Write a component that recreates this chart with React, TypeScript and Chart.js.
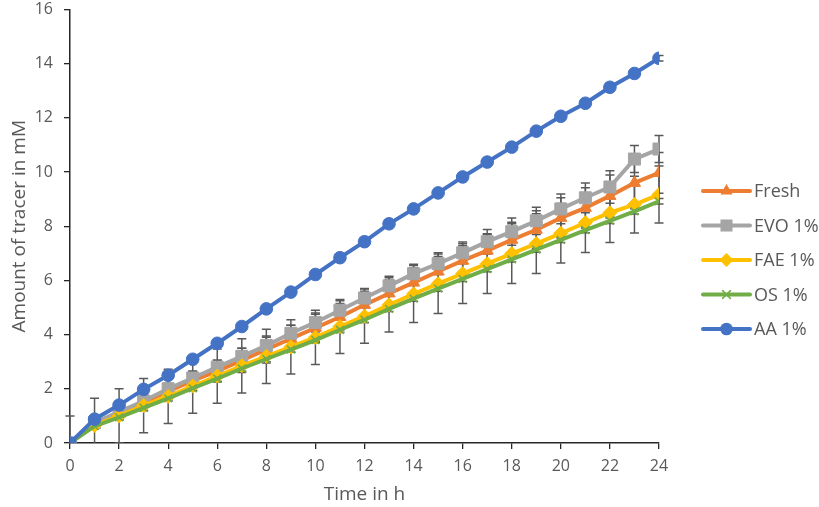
import React, { useEffect, useRef } from 'react';
import { Chart, registerables } from 'chart.js';

Chart.register(...registerables);

const hours = [0, 1, 2, 3, 4, 5, 6, 7, 8, 9, 10, 11, 12, 13, 14, 15, 16, 17, 18, 19, 20, 21, 22, 23, 24];

const freshValues = [0, 0.75, 1.1, 1.5, 1.9, 2.3, 2.65, 3.05, 3.45, 3.85, 4.25, 4.65, 5.1, 5.52, 5.92, 6.33, 6.73, 7.1, 7.5, 7.87, 8.31, 8.68, 9.12, 9.6, 9.97];
const freshErrors = [0, 0.2, 0.25, 0.3, 0.3, 0.35, 0.4, 0.45, 0.5, 0.5, 0.5, 0.5, 0.5, 0.5, 0.55, 0.55, 0.55, 0.6, 0.65, 0.7, 0.74, 0.74, 0.77, 0.75, 0.75];

const evoValues = [0, 0.75, 1.15, 1.55, 2.0, 2.4, 2.8, 3.2, 3.6, 4.05, 4.45, 4.9, 5.35, 5.8, 6.25, 6.62, 7.02, 7.43, 7.8, 8.2, 8.64, 9.05, 9.45, 10.48, 10.85];
const evoErrors = [0, 0.1, 0.15, 0.2, 0.2, 0.25, 0.25, 0.3, 0.3, 0.3, 0.35, 0.35, 0.35, 0.35, 0.35, 0.4, 0.4, 0.45, 0.5, 0.5, 0.55, 0.55, 0.6, 0.5, 0.5];

const faeValues = [0, 0.65, 1.0, 1.38, 1.72, 2.1, 2.47, 2.85, 3.2, 3.55, 3.9, 4.3, 4.68, 5.1, 5.5, 5.88, 6.25, 6.62, 6.99, 7.36, 7.74, 8.13, 8.5, 8.8, 9.17];
const faeErrors = [1.0, 1.0, 1.0, 1.0, 1.0, 1.0, 1.0, 1.0, 1.0, 1.0, 1.0, 1.0, 1.0, 1.0, 1.05, 1.1, 1.1, 1.1, 1.1, 1.1, 1.1, 1.1, 1.1, 1.05, 1.05];

const osValues = [0, 0.62, 0.95, 1.3, 1.65, 2.02, 2.38, 2.75, 3.1, 3.45, 3.8, 4.18, 4.55, 4.95, 5.33, 5.7, 6.06, 6.42, 6.78, 7.14, 7.5, 7.86, 8.2, 8.55, 8.92];
const osErrors = [0, 0.1, 0.1, 0.1, 0.1, 0.1, 0.1, 0.1, 0.1, 0.1, 0.1, 0.1, 0.1, 0.1, 0.1, 0.1, 0.1, 0.1, 0.1, 0.1, 0.1, 0.1, 0.1, 0.1, 0.1];

const aaValues = [0, 0.88, 1.4, 1.98, 2.5, 3.09, 3.68, 4.3, 4.95, 5.57, 6.22, 6.84, 7.43, 8.09, 8.64, 9.23, 9.82, 10.37, 10.92, 11.51, 12.06, 12.54, 13.13, 13.64, 14.2];
const aaErrors = [0, 0.05, 0.05, 0.05, 0.08, 0.08, 0.08, 0.08, 0.08, 0.08, 0.08, 0.08, 0.08, 0.08, 0.08, 0.08, 0.08, 0.1, 0.1, 0.1, 0.1, 0.12, 0.15, 0.1, 0.1];

const seriesNames = ['Fresh', 'EVO 1%', 'FAE 1%', 'OS 1%', 'AA 1%'];
const seriesColors = ['#ED7D31', '#A5A5A5', '#FFC000', '#70AD47', '#4472C4'];
const seriesMarkers = ['triangle', 'rect', 'rectRot', 'crossRot', 'circle'];
const seriesValues = [freshValues, evoValues, faeValues, osValues, aaValues];
const seriesErrors = [freshErrors, evoErrors, faeErrors, osErrors, aaErrors];
const markerRadii = [7, 8.5, 7, 5.5, 6.3];

const FONT = '"Open Sans", sans-serif';
const TEXT_COLOR = '#595959';

function drawMarker(ctx: CanvasRenderingContext2D, style: string, x: number, y: number, r: number, color: string) {
  ctx.save();
  ctx.fillStyle = color;
  ctx.strokeStyle = color;
  ctx.lineWidth = 1.5;
  ctx.beginPath();
  if (style === 'circle') {
    ctx.arc(x, y, r, 0, Math.PI * 2);
    ctx.fill();
  } else if (style === 'rect') {
    const s = r * Math.SQRT1_2;
    ctx.rect(x - s, y - s, 2 * s, 2 * s);
    ctx.fill();
  } else if (style === 'rectRot') {
    ctx.moveTo(x, y - r);
    ctx.lineTo(x + r, y);
    ctx.lineTo(x, y + r);
    ctx.lineTo(x - r, y);
    ctx.closePath();
    ctx.fill();
  } else if (style === 'triangle') {
    ctx.moveTo(x, y - r);
    ctx.lineTo(x + r * 0.866, y + r * 0.5);
    ctx.lineTo(x - r * 0.866, y + r * 0.5);
    ctx.closePath();
    ctx.fill();
  } else if (style === 'crossRot') {
    const s = r * Math.SQRT1_2;
    ctx.moveTo(x - s, y - s);
    ctx.lineTo(x + s, y + s);
    ctx.moveTo(x + s, y - s);
    ctx.lineTo(x - s, y + s);
    ctx.stroke();
  }
  ctx.restore();
}

const errorBarPlugin = {
  id: 'errorBars',
  beforeDatasetsDraw(chart: any) {
    const { ctx, chartArea, scales } = chart;
    const xs = scales.x;
    const ys = scales.y;
    ctx.save();
    ctx.beginPath();
    ctx.rect(chartArea.left - 8, chartArea.top, chartArea.right - chartArea.left + 16, chartArea.bottom - chartArea.top);
    ctx.clip();
    ctx.strokeStyle = '#595959';
    ctx.lineWidth = 1.5;
    seriesValues.forEach((vals, si) => {
      const errs = seriesErrors[si];
      vals.forEach((v, i) => {
        const e = errs[i];
        if (!e) return;
        const px = xs.getPixelForValue(hours[i]);
        const top = ys.getPixelForValue(v + e);
        const bot = ys.getPixelForValue(v - e);
        ctx.beginPath();
        ctx.moveTo(px, top);
        ctx.lineTo(px, bot);
        ctx.moveTo(px - 4.5, top);
        ctx.lineTo(px + 4.5, top);
        ctx.moveTo(px - 4.5, bot);
        ctx.lineTo(px + 4.5, bot);
        ctx.stroke();
      });
    });
    ctx.restore();
  },
};

const LEGEND_LINE_X0 = 703;
const LEGEND_LINE_X1 = 750;
const LEGEND_TEXT_X = 754;
const LEGEND_TOP = 191;
const LEGEND_STEP = 34.5;

const legendPlugin = {
  id: 'customLegend',
  afterDraw(chart: any) {
    const ctx: CanvasRenderingContext2D = chart.ctx;
    ctx.save();
    seriesNames.forEach((name, i) => {
      const y = LEGEND_TOP + i * LEGEND_STEP;
      ctx.strokeStyle = seriesColors[i];
      ctx.lineWidth = 4;
      ctx.lineCap = 'round';
      ctx.beginPath();
      ctx.moveTo(LEGEND_LINE_X0, y);
      ctx.lineTo(LEGEND_LINE_X1, y);
      ctx.stroke();
      drawMarker(ctx, seriesMarkers[i], (LEGEND_LINE_X0 + LEGEND_LINE_X1) / 2, y, markerRadii[i], seriesColors[i]);
      ctx.fillStyle = TEXT_COLOR;
      ctx.font = `18px ${FONT}`;
      ctx.textBaseline = 'middle';
      ctx.textAlign = 'left';
      ctx.fillText(name, LEGEND_TEXT_X, y + 1);
    });
    ctx.restore();
  },
};

export default function App() {
  const canvasRef = useRef<HTMLCanvasElement | null>(null);

  useEffect(() => {
    const canvas = canvasRef.current;
    if (!canvas) return;
    const datasets = seriesNames.map((name, si) => ({
      label: name,
      data: hours.map((h, i) => ({ x: h, y: seriesValues[si][i] })),
      borderColor: seriesColors[si],
      backgroundColor: seriesColors[si],
      borderWidth: 4,
      pointStyle: seriesMarkers[si],
      pointRadius: markerRadii[si],
      pointBorderWidth: si === 3 ? 1.5 : 1,
      pointBorderColor: seriesColors[si],
      pointBackgroundColor: seriesColors[si],
      tension: 0,
      order: 4 - si,
    }));
    const chart = new Chart(canvas, {
      type: 'line',
      data: { datasets },
      options: {
        responsive: false,
        animation: false,
        layout: { padding: { top: 8, right: 160, left: 0, bottom: 0 } },
        plugins: {
          legend: { display: false },
          tooltip: { enabled: false },
        },
        scales: {
          x: {
            type: 'linear',
            min: 0,
            max: 24,
            grid: { display: true, drawOnChartArea: false, drawTicks: true, tickLength: 6, color: '#262626', lineWidth: 1.3 },
            border: { display: true, color: '#262626', width: 1.5 },
            ticks: { stepSize: 2, color: TEXT_COLOR, font: { family: FONT, size: 16 }, padding: 8, maxRotation: 0 },
            title: { display: true, text: 'Time in h', color: TEXT_COLOR, font: { family: FONT, size: 19 }, padding: { top: 0, bottom: 1 } },
            afterFit: (scale: any) => { scale.height = 64; scale.paddingLeft = 0; scale.paddingRight = 0; },
          },
          y: {
            type: 'linear',
            min: 0,
            max: 16,
            grid: { display: true, drawOnChartArea: false, drawTicks: true, tickLength: 6, color: '#262626', lineWidth: 1.3 },
            border: { display: true, color: '#262626', width: 1.5 },
            ticks: { stepSize: 2, color: TEXT_COLOR, font: { family: FONT, size: 16 }, padding: 11 },
            title: { display: true, text: 'Amount of tracer in mM', color: TEXT_COLOR, font: { family: FONT, size: 19 }, padding: { top: 8, bottom: 0 } },
            afterFit: (scale: any) => { scale.width = 70; scale.paddingTop = 0; scale.paddingBottom = 0; },
          },
        },
      },
      plugins: [errorBarPlugin, legendPlugin],
    } as any);
    return () => chart.destroy();
  }, []);

  return (
    <div style={{ position: 'fixed', left: 0, top: 0, width: 819, height: 507, background: '#fff' }}>
      <canvas ref={canvasRef} width={819} height={507} style={{ width: 819, height: 507, display: 'block' }} />
    </div>
  );
}
